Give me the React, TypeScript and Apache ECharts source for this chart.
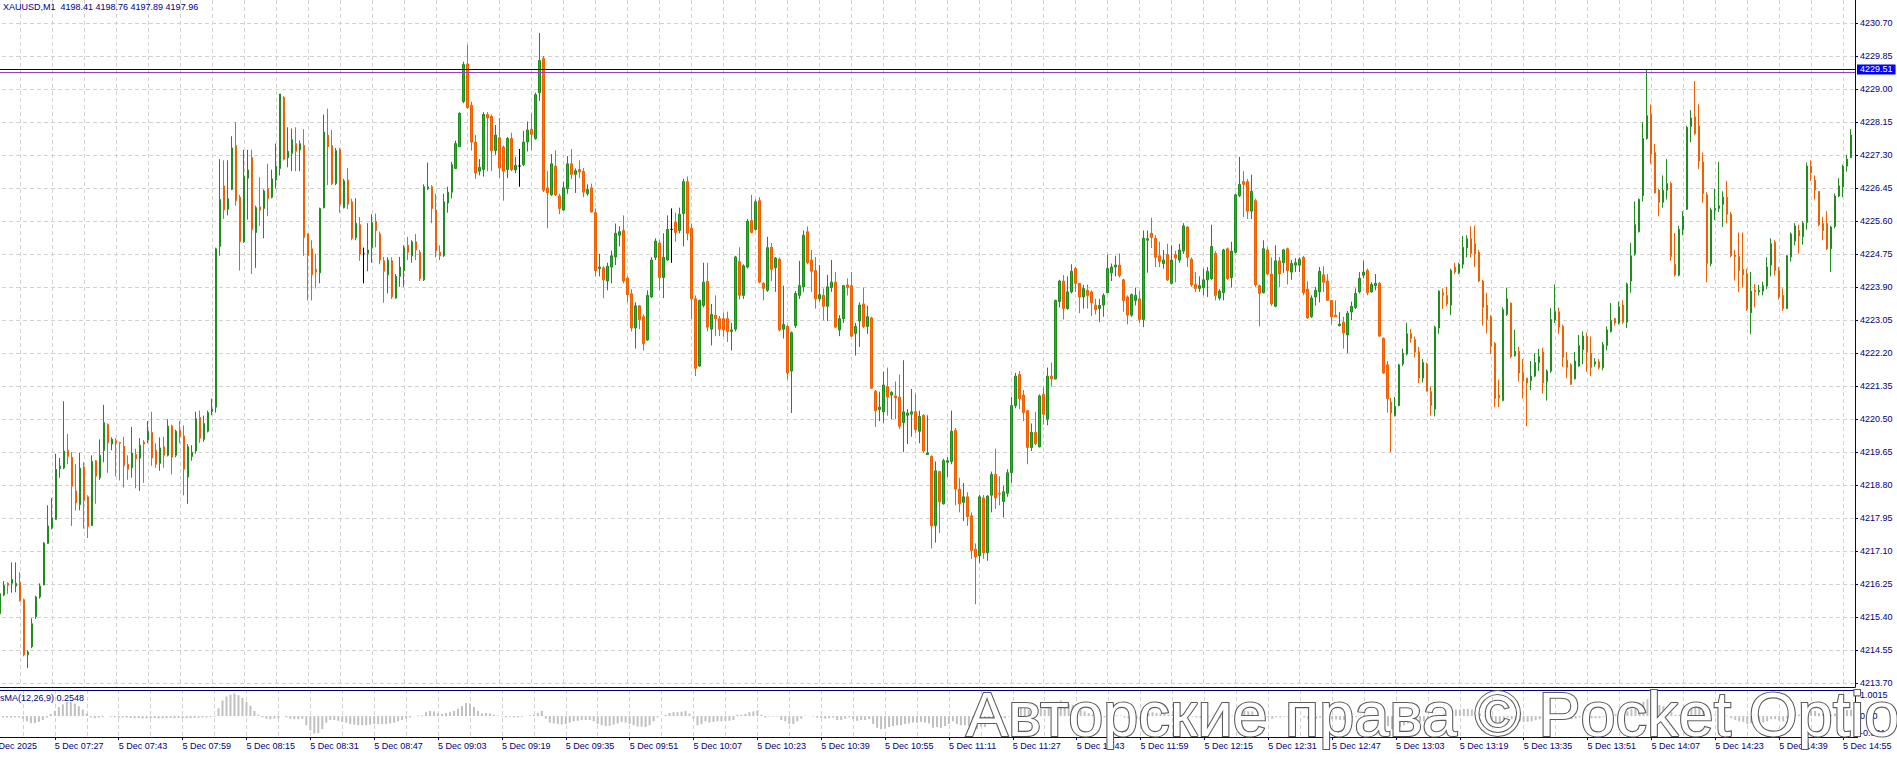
import React, { useEffect, useRef } from "react";
import * as echarts from "echarts";

const SYMBOL_TITLE = "XAUUSD,M1  4198.41 4198.76 4197.89 4197.96";
const INDICATOR_TITLE = "sMA(12,26,9) 0.2548";
const WATERMARK = "Авторские права © Pocket Option";

const FIRST_SLOT = "07:11"; // first time slot of the axis
const LEAD_EMPTY = 3; // empty slots before the first bar
const TRAIL_EMPTY = 1; // empty slot after the last bar

const PRICE_LINE = 4229.51;
const SECOND_LINE = 4229.45;

const PRICE_TICKS = [
  4213.7, 4214.55, 4215.4, 4216.25, 4217.1, 4217.95, 4218.8, 4219.65, 4220.5, 4221.35, 4222.2,
  4223.05, 4223.9, 4224.75, 4225.6, 4226.45, 4227.3, 4228.15, 4229.0, 4229.85, 4230.7,
];
const OSMA_TICKS = [-0.8016, 0, 1.0015];

const TIME_LABELS = [
  "5 Dec 2025", "5 Dec 07:27", "5 Dec 07:43", "5 Dec 07:59", "5 Dec 08:15", "5 Dec 08:31",
  "5 Dec 08:47", "5 Dec 09:03", "5 Dec 09:19", "5 Dec 09:35", "5 Dec 09:51", "5 Dec 10:07",
  "5 Dec 10:23", "5 Dec 10:39", "5 Dec 10:55", "5 Dec 11:11", "5 Dec 11:27", "5 Dec 11:43",
  "5 Dec 11:59", "5 Dec 12:15", "5 Dec 12:31", "5 Dec 12:47", "5 Dec 13:03", "5 Dec 13:19",
  "5 Dec 13:35", "5 Dec 13:51", "5 Dec 14:07", "5 Dec 14:23", "5 Dec 14:39", "5 Dec 14:55",
];

// [open, high, low, close] per minute, 07:14 .. 14:57
const BARS: number[][] = [
  [4215.49,4216.05,4215.45,4216.00],[4215.97,4216.33,4215.94,4216.22],[4216.27,4216.30,4216.00,4216.22],[4216.27,4216.81,4216.03,4216.37],
  [4216.20,4216.81,4216.04,4216.27],[4216.29,4216.56,4215.80,4215.82],[4215.85,4215.88,4214.39,4214.43],[4214.43,4214.55,4214.09,4214.50],
  [4214.64,4215.37,4214.60,4215.23],[4215.41,4215.95,4215.35,4215.92],[4215.92,4216.27,4215.88,4216.20],[4216.23,4217.33,4216.22,4217.31],
  [4217.30,4218.28,4217.29,4217.75],[4217.70,4218.47,4217.66,4217.96],[4217.92,4219.61,4217.91,4219.21],[4219.23,4219.50,4218.99,4219.29],
  [4219.24,4220.96,4219.21,4219.68],[4219.70,4220.12,4219.34,4219.54],[4219.52,4219.65,4217.75,4218.77],[4218.65,4219.34,4218.15,4218.34],
  [4218.30,4219.63,4218.15,4219.24],[4219.27,4219.39,4217.68,4218.41],[4218.50,4218.54,4217.44,4217.73],[4217.76,4219.57,4217.75,4219.41],
  [4219.43,4219.45,4218.32,4219.03],[4218.99,4219.98,4218.94,4219.57],[4219.70,4220.87,4219.39,4220.41],[4220.36,4220.39,4219.12,4219.89],
  [4219.86,4220.03,4219.70,4219.98],[4219.95,4220.01,4219.03,4219.89],[4219.90,4219.92,4218.92,4219.88],[4219.80,4220.05,4218.74,4219.30],
  [4219.34,4219.57,4218.94,4219.21],[4219.25,4220.30,4218.99,4219.63],[4219.59,4219.74,4218.72,4219.48],[4219.50,4220.01,4218.65,4219.83],
  [4219.91,4219.96,4218.86,4219.86],[4219.96,4220.45,4219.88,4220.19],[4220.16,4220.69,4219.30,4219.50],[4219.70,4219.88,4219.25,4219.34],
  [4219.36,4220.03,4219.17,4219.76],[4219.79,4220.05,4219.25,4219.57],[4219.57,4220.50,4219.54,4220.32],[4220.32,4220.36,4219.08,4219.52],
  [4219.57,4220.23,4219.52,4220.19],[4220.21,4220.45,4219.88,4220.05],[4220.07,4220.34,4218.54,4219.21],[4219.01,4219.86,4218.32,4219.79],
  [4219.54,4219.83,4219.43,4219.65],[4219.68,4220.69,4219.61,4220.51],[4220.54,4220.72,4219.89,4220.01],[4219.98,4220.59,4219.92,4220.39],
  [4220.19,4220.72,4220.16,4220.67],[4220.69,4221.03,4220.60,4220.76],[4220.81,4224.92,4220.67,4224.89],[4224.95,4227.20,4224.71,4226.16],
  [4226.51,4227.17,4225.66,4225.89],[4225.91,4227.17,4225.75,4226.18],[4226.42,4227.79,4226.40,4227.49],[4227.55,4228.15,4226.00,4226.13],
  [4226.22,4226.28,4224.33,4225.07],[4225.07,4227.44,4225.04,4226.75],[4226.71,4227.44,4225.64,4226.92],[4227.24,4227.44,4224.24,4225.38],
  [4225.31,4226.00,4224.40,4225.95],[4225.97,4226.73,4225.48,4225.89],[4225.93,4226.42,4225.16,4226.38],[4226.44,4227.08,4225.73,4226.18],
  [4226.22,4226.93,4226.19,4226.69],[4226.66,4227.60,4226.44,4227.02],[4226.96,4228.88,4226.78,4228.88],[4228.79,4228.82,4227.17,4227.20],
  [4227.24,4228.02,4226.99,4227.40],[4227.35,4227.99,4226.89,4227.70],[4227.60,4228.02,4226.89,4227.40],[4227.44,4227.68,4226.89,4227.60],
  [4227.55,4227.97,4224.71,4225.18],[4225.27,4225.29,4223.56,4224.71],[4224.89,4225.11,4223.56,4224.22],[4224.36,4224.76,4223.87,4224.29],
  [4224.27,4225.95,4224.00,4225.93],[4225.95,4228.35,4225.93,4227.90],[4227.82,4228.50,4226.53,4227.52],[4227.55,4227.95,4226.53,4226.57],
  [4226.57,4227.49,4226.53,4227.42],[4227.44,4227.49,4225.82,4226.04],[4225.95,4226.69,4225.93,4226.64],[4226.66,4226.97,4225.91,4226.04],
  [4226.10,4226.18,4225.11,4225.16],[4225.18,4226.19,4225.11,4225.55],[4225.51,4225.71,4224.58,4224.76],[4224.76,4224.92,4224.00,4224.76],
  [4224.77,4225.55,4224.31,4224.86],[4224.92,4225.78,4224.53,4225.57],[4225.60,4225.80,4224.93,4225.36],[4225.27,4225.33,4224.49,4224.60],
  [4224.58,4224.68,4223.50,4224.31],[4224.22,4224.67,4223.74,4224.60],[4224.58,4224.67,4223.60,4223.65],[4223.62,4224.24,4223.60,4224.18],
  [4224.18,4224.68,4223.91,4224.42],[4224.33,4224.98,4223.91,4224.92],[4224.98,4225.20,4224.60,4224.80],[4224.71,4225.11,4224.53,4225.07],
  [4225.07,4225.27,4224.60,4224.86],[4224.80,4224.86,4224.06,4224.12],[4224.09,4226.55,4224.06,4226.49],[4226.44,4227.11,4226.40,4226.49],
  [4226.49,4226.53,4225.55,4225.93],[4225.89,4226.31,4224.67,4224.83],[4224.80,4224.98,4224.60,4224.71],[4224.71,4226.31,4224.68,4226.10],
  [4226.07,4226.49,4225.82,4226.35],[4226.35,4227.13,4226.19,4227.06],[4226.96,4227.68,4226.96,4227.60],[4227.52,4228.41,4227.51,4228.38],
  [4228.68,4229.71,4228.64,4229.64],[4229.65,4230.15,4228.50,4228.53],[4228.59,4228.68,4227.42,4227.64],[4227.64,4227.82,4226.69,4226.84],
  [4226.89,4227.20,4226.78,4226.99],[4226.93,4228.41,4226.75,4228.35],[4228.35,4228.41,4226.89,4228.26],[4228.30,4228.35,4226.89,4227.42],
  [4227.42,4228.08,4227.31,4227.82],[4227.75,4228.26,4226.71,4226.97],[4227.51,4227.55,4226.13,4226.89],[4226.93,4227.77,4226.71,4227.73],
  [4227.73,4227.88,4226.89,4226.93],[4226.92,4227.26,4226.84,4227.04],[4227.02,4227.46,4226.49,4227.02],[4227.06,4227.93,4227.02,4227.64],
  [4227.64,4228.17,4227.40,4227.95],[4227.97,4228.38,4227.43,4227.84],[4227.73,4228.91,4227.70,4228.86],[4228.91,4230.45,4228.70,4229.74],
  [4229.79,4229.86,4226.35,4226.40],[4226.46,4226.89,4225.42,4226.33],[4226.28,4227.33,4226.25,4227.08],[4227.02,4227.43,4226.25,4226.28],
  [4226.25,4226.31,4225.78,4225.93],[4225.89,4226.62,4225.87,4226.46],[4226.44,4227.28,4226.31,4227.08],[4227.08,4227.46,4226.69,4226.81],
  [4226.81,4226.96,4226.33,4226.90],[4226.93,4227.17,4226.71,4226.87],[4226.88,4226.97,4226.22,4226.35],[4226.31,4226.55,4226.26,4226.42],
  [4226.46,4226.57,4225.82,4225.84],[4225.82,4225.93,4224.18,4224.33],[4224.38,4224.76,4224.18,4224.42],[4224.40,4224.44,4223.62,4224.09],
  [4224.06,4224.53,4223.82,4224.44],[4224.42,4224.84,4224.00,4224.71],[4224.68,4225.54,4224.47,4225.29],[4225.24,4225.47,4224.95,4225.33],
  [4225.36,4225.75,4224.00,4224.06],[4224.13,4224.18,4223.51,4223.71],[4223.73,4223.85,4222.76,4222.85],[4222.85,4223.51,4222.32,4223.42],
  [4223.42,4223.44,4222.82,4223.07],[4223.14,4223.20,4222.27,4222.45],[4222.54,4223.82,4222.52,4223.69],[4223.65,4224.67,4223.62,4224.60],
  [4224.67,4225.16,4224.60,4225.09],[4225.04,4225.11,4223.82,4224.15],[4224.15,4225.29,4223.62,4224.67],[4224.60,4225.75,4224.58,4225.39],
  [4225.39,4225.93,4224.53,4225.39],[4225.57,4225.82,4225.07,4225.31],[4225.36,4225.95,4225.29,4225.78],[4225.80,4226.69,4224.95,4226.62],
  [4226.62,4226.75,4225.11,4225.29],[4225.42,4225.54,4223.07,4223.60],[4223.60,4223.69,4221.61,4221.81],[4221.87,4223.58,4221.85,4223.56],
  [4223.43,4224.53,4223.38,4224.03],[4224.05,4224.53,4222.76,4222.87],[4222.82,4223.47,4222.40,4223.20],[4223.18,4223.69,4222.64,4223.09],
  [4223.09,4223.16,4222.64,4222.82],[4223.09,4223.25,4222.63,4222.80],[4223.09,4223.27,4222.49,4222.76],[4222.76,4222.98,4222.27,4222.80],
  [4222.82,4224.71,4222.76,4224.68],[4224.56,4224.93,4223.58,4223.69],[4223.69,4224.49,4223.60,4224.45],[4224.42,4225.66,4224.38,4225.60],
  [4225.62,4226.28,4225.29,4225.31],[4225.39,4226.16,4225.36,4226.10],[4226.13,4226.22,4224.00,4224.03],[4224.00,4224.03,4223.56,4223.87],
  [4223.82,4225.20,4223.78,4224.92],[4224.93,4225.04,4224.06,4224.36],[4224.40,4224.68,4223.78,4224.65],[4224.62,4224.67,4222.76,4222.80],
  [4222.82,4223.94,4222.58,4222.94],[4222.89,4222.94,4221.52,4221.69],[4221.74,4222.76,4220.66,4222.73],[4222.91,4223.80,4222.85,4223.74],
  [4223.69,4224.58,4223.60,4223.94],[4223.91,4225.36,4223.78,4225.24],[4225.33,4225.47,4224.49,4224.53],[4224.60,4224.86,4223.78,4224.31],
  [4224.33,4224.68,4223.35,4223.60],[4223.60,4224.47,4223.53,4223.71],[4223.69,4223.87,4223.05,4223.41],[4223.41,4224.22,4223.03,4223.91],
  [4223.89,4224.60,4223.78,4224.03],[4224.03,4224.29,4222.85,4222.87],[4222.80,4223.18,4222.64,4223.09],[4223.09,4223.96,4222.98,4223.94],
  [4223.96,4224.13,4223.69,4223.89],[4223.94,4224.29,4222.62,4222.64],[4222.71,4222.98,4222.14,4222.89],[4223.03,4223.51,4222.36,4223.44],
  [4223.47,4223.89,4222.85,4222.89],[4222.89,4223.42,4222.70,4223.14],[4223.11,4223.14,4221.28,4221.30],[4221.22,4221.25,4220.30,4220.72],
  [4220.75,4221.21,4220.45,4220.81],[4220.69,4221.72,4220.41,4221.38],[4221.34,4221.83,4220.59,4221.07],[4221.12,4221.22,4220.50,4221.19],
  [4221.10,4221.47,4220.50,4221.05],[4221.07,4221.65,4220.25,4220.32],[4220.41,4222.02,4219.65,4220.69],[4220.60,4220.76,4219.86,4220.66],
  [4220.63,4221.28,4220.05,4220.69],[4220.69,4221.16,4220.14,4220.23],[4220.19,4220.72,4219.88,4220.57],[4220.60,4220.63,4219.63,4219.68],
  [4219.59,4220.60,4219.59,4219.63],[4219.54,4219.57,4217.17,4217.75],[4217.76,4219.41,4217.32,4219.17],[4219.15,4219.17,4217.57,4218.37],
  [4218.32,4219.48,4218.30,4219.43],[4219.39,4219.52,4219.01,4219.43],[4219.41,4220.72,4219.34,4220.19],[4220.21,4220.27,4218.28,4218.70],
  [4218.70,4218.99,4218.10,4218.32],[4218.36,4218.86,4217.88,4218.50],[4218.50,4218.62,4217.75,4217.99],[4218.01,4218.10,4216.90,4217.12],
  [4217.15,4217.30,4215.73,4216.95],[4216.98,4218.55,4216.80,4218.50],[4218.47,4218.55,4216.90,4217.06],[4217.06,4218.54,4216.85,4218.52],
  [4218.54,4219.15,4218.10,4219.08],[4219.08,4219.74,4218.19,4218.47],[4218.59,4219.03,4218.28,4218.57],[4218.38,4218.79,4217.97,4218.63],
  [4218.59,4219.21,4218.50,4219.12],[4219.12,4221.07,4218.86,4220.85],[4220.85,4221.69,4220.78,4221.61],[4221.65,4221.74,4220.76,4221.03],
  [4221.12,4221.25,4220.45,4220.67],[4220.72,4220.72,4219.34,4219.77],[4219.77,4220.39,4219.68,4220.16],[4220.16,4220.69,4219.83,4219.87],
  [4219.79,4221.14,4219.77,4221.10],[4221.14,4221.34,4220.36,4220.63],[4220.50,4221.83,4220.34,4221.61],[4221.61,4221.96,4221.34,4221.54],
  [4221.54,4223.58,4221.52,4223.56],[4223.53,4224.09,4223.38,4224.06],[4224.06,4224.21,4223.07,4223.35],[4223.35,4224.18,4223.32,4223.78],
  [4223.78,4224.49,4223.74,4224.31],[4224.38,4224.42,4223.78,4224.00],[4224.00,4224.00,4223.23,4223.65],[4223.65,4223.96,4223.35,4223.87],
  [4223.82,4223.97,4223.35,4223.69],[4223.78,4223.82,4223.16,4223.50],[4223.44,4223.60,4223.20,4223.32],[4223.35,4223.60,4223.00,4223.43],
  [4223.44,4223.74,4223.14,4223.69],[4223.76,4224.74,4223.74,4224.38],[4224.27,4224.51,4224.06,4224.42],[4224.42,4224.71,4224.18,4224.47],
  [4224.47,4224.77,4224.15,4224.20],[4224.09,4224.12,4223.27,4223.56],[4223.65,4223.69,4222.94,4223.18],[4223.18,4223.74,4223.14,4223.71],
  [4223.56,4223.89,4223.43,4223.69],[4223.60,4223.80,4222.98,4223.07],[4223.07,4225.36,4222.87,4225.16],[4225.11,4225.36,4224.27,4225.15],
  [4225.29,4225.69,4224.91,4225.18],[4225.16,4225.24,4224.42,4224.67],[4224.71,4225.07,4224.42,4224.56],[4224.51,4224.86,4224.38,4224.60],
  [4224.74,4225.02,4224.06,4224.09],[4224.00,4224.98,4223.97,4224.60],[4224.74,4224.84,4224.03,4224.65],[4224.60,4225.02,4224.53,4224.86],
  [4224.83,4225.55,4224.76,4225.48],[4225.45,4225.48,4224.42,4224.67],[4224.62,4224.67,4223.91,4223.96],[4223.97,4224.29,4223.78,4223.87],
  [4223.87,4224.18,4223.78,4223.94],[4223.89,4224.38,4223.69,4224.09],[4224.09,4224.42,4223.65,4224.31],[4224.12,4225.51,4224.09,4224.95],
  [4224.77,4224.83,4223.56,4223.69],[4223.62,4223.85,4223.56,4223.80],[4223.76,4224.89,4223.56,4224.86],[4224.89,4224.92,4224.09,4224.12],
  [4224.15,4225.07,4223.89,4224.83],[4224.80,4226.31,4224.77,4226.28],[4226.26,4227.26,4226.22,4226.55],[4226.62,4226.89,4225.71,4226.55],
  [4226.62,4226.69,4225.66,4225.86],[4225.86,4226.80,4225.66,4226.37],[4226.13,4226.18,4223.91,4223.96],[4223.94,4223.97,4222.89,4223.74],
  [4223.76,4225.11,4223.74,4224.89],[4224.86,4224.93,4224.22,4224.24],[4224.24,4224.67,4223.42,4223.47],[4223.41,4224.98,4223.38,4224.58],
  [4224.58,4224.68,4223.91,4224.24],[4224.53,4224.89,4224.27,4224.86],[4224.89,4224.92,4223.97,4224.33],[4224.29,4224.60,4224.09,4224.51],
  [4224.47,4224.65,4224.29,4224.53],[4224.47,4224.67,4224.29,4224.62],[4224.67,4224.71,4223.69,4223.76],[4223.85,4224.05,4223.09,4223.11],
  [4223.14,4223.69,4223.11,4223.62],[4223.65,4223.91,4223.43,4223.82],[4223.78,4224.42,4223.51,4224.31],[4224.22,4224.44,4223.78,4224.03],
  [4224.06,4224.24,4223.56,4223.56],[4223.56,4223.56,4222.94,4223.14],[4223.18,4223.56,4223.14,4223.14],[4222.91,4223.26,4222.89,4222.95],
  [4223.00,4223.14,4222.32,4222.72],[4222.67,4223.29,4222.20,4223.23],[4223.26,4223.53,4223.05,4223.41],[4223.38,4223.87,4223.34,4223.74],
  [4223.78,4224.29,4223.74,4224.13],[4224.21,4224.58,4224.13,4224.29],[4224.33,4224.38,4223.69,4223.76],[4223.78,4224.03,4223.76,4223.97],
  [4223.94,4224.24,4223.82,4224.00],[4224.00,4224.03,4222.63,4222.64],[4222.58,4222.61,4221.67,4221.69],[4221.90,4222.00,4220.67,4221.03],
  [4220.94,4221.05,4219.65,4220.66],[4220.60,4221.07,4220.57,4220.83],[4220.85,4221.93,4220.83,4221.90],[4221.92,4222.32,4221.87,4222.20],
  [4222.18,4222.98,4222.14,4222.70],[4222.70,4222.82,4222.47,4222.58],[4222.55,4222.63,4222.09,4222.23],[4222.23,4222.36,4221.43,4221.56],
  [4221.56,4222.05,4221.45,4221.96],[4221.92,4221.96,4221.21,4221.22],[4221.21,4221.34,4220.59,4220.85],[4220.76,4222.91,4220.57,4222.87],
  [4222.85,4223.82,4222.70,4223.80],[4223.76,4223.87,4223.34,4223.69],[4223.69,4223.91,4223.41,4223.47],[4223.44,4224.38,4223.18,4224.33],
  [4224.42,4224.53,4224.24,4224.29],[4224.27,4224.53,4224.24,4224.49],[4224.49,4225.22,4224.38,4224.93],[4224.91,4225.24,4224.67,4225.15],
  [4225.15,4225.47,4224.67,4224.77],[4225.02,4225.48,4224.42,4224.76],[4224.80,4224.86,4224.03,4224.06],[4224.06,4224.09,4222.91,4223.38],
  [4223.44,4223.76,4222.71,4223.07],[4223.14,4223.18,4222.18,4222.38],[4222.45,4222.49,4220.81,4221.03],[4221.12,4221.52,4220.81,4221.05],
  [4220.98,4223.38,4220.96,4223.32],[4223.20,4223.89,4223.16,4223.60],[4223.49,4223.51,4222.07,4222.11],[4222.14,4222.80,4222.11,4222.25],
  [4222.25,4222.36,4221.47,4221.69],[4221.69,4222.05,4221.03,4221.49],[4221.56,4221.56,4220.32,4221.43],[4221.49,4222.00,4221.25,4221.61],
  [4221.61,4222.20,4221.58,4221.96],[4221.96,4222.31,4221.74,4222.11],[4222.23,4222.34,4221.16,4221.43],[4221.47,4221.78,4220.98,4221.74],
  [4221.74,4223.36,4221.69,4223.07],[4223.05,4223.97,4222.98,4223.27],[4223.27,4223.38,4222.70,4222.87],[4222.89,4222.94,4221.85,4222.09],
  [4222.02,4222.23,4221.56,4221.83],[4221.90,4221.94,4221.38,4221.40],[4221.54,4222.23,4221.52,4222.00],[4221.87,4222.67,4221.85,4222.40],
  [4222.29,4222.76,4221.92,4222.64],[4222.64,4222.73,4221.72,4222.23],[4222.20,4222.63,4221.61,4221.83],[4221.92,4222.07,4221.85,4221.98],
  [4221.98,4222.05,4221.78,4221.83],[4221.83,4222.49,4221.76,4222.42],[4222.40,4222.89,4222.27,4222.80],[4222.76,4223.49,4222.73,4223.05],
  [4223.09,4223.11,4222.91,4222.98],[4222.98,4223.53,4222.94,4223.40],[4223.44,4223.56,4222.96,4223.00],[4223.00,4224.02,4222.85,4223.98],
  [4224.06,4225.04,4223.76,4224.71],[4224.76,4226.11,4224.71,4225.51],[4225.33,4226.19,4225.31,4226.16],[4226.26,4228.15,4226.11,4227.73],
  [4227.73,4229.51,4227.70,4228.32],[4228.35,4228.61,4227.08,4227.33],[4227.37,4227.59,4226.31,4226.33],[4226.40,4226.44,4225.73,4226.09],
  [4226.09,4226.78,4225.95,4226.40],[4226.40,4227.20,4226.16,4226.57],[4226.57,4226.62,4224.58,4224.69],[4224.49,4225.30,4224.18,4224.22],
  [4224.21,4225.48,4224.18,4225.39],[4225.38,4225.86,4225.24,4225.73],[4225.91,4228.06,4225.89,4228.02],[4228.04,4228.46,4227.64,4228.26],
  [4228.29,4229.21,4227.82,4227.86],[4228.06,4228.61,4226.95,4227.15],[4227.13,4227.37,4226.07,4226.31],[4226.28,4226.35,4224.03,4224.51],
  [4224.51,4225.95,4224.44,4225.89],[4225.89,4226.44,4225.63,4225.93],[4225.93,4227.13,4225.84,4226.00],[4226.04,4226.37,4225.45,4226.22],
  [4226.22,4226.64,4225.55,4225.78],[4225.78,4225.84,4224.67,4224.71],[4224.73,4224.86,4224.07,4224.69],[4224.69,4225.31,4223.78,4224.33],
  [4224.36,4225.31,4223.89,4224.22],[4224.24,4224.38,4223.29,4223.35],[4223.24,4224.29,4222.69,4223.80],[4223.82,4223.98,4223.38,4223.78],
  [4223.78,4223.96,4223.69,4223.82],[4223.80,4224.04,4223.69,4223.94],[4223.93,4224.67,4223.85,4224.42],[4224.47,4225.16,4224.18,4225.02],
  [4225.06,4225.11,4224.20,4224.33],[4224.33,4224.42,4223.58,4223.65],[4223.69,4223.87,4223.29,4223.35],[4223.35,4224.73,4223.34,4224.71],
  [4224.68,4225.31,4224.56,4225.27],[4225.09,4225.55,4224.98,4225.48],[4225.36,4225.51,4224.76,4225.22],[4225.20,4225.60,4225.00,4225.55],
  [4225.57,4227.11,4225.38,4227.02],[4227.02,4227.17,4226.64,4226.84],[4226.66,4226.78,4226.16,4226.40],[4226.37,4226.37,4225.47,4225.51],
  [4225.54,4225.71,4225.11,4225.36],[4225.54,4225.86,4224.86,4224.89],[4224.89,4225.48,4224.29,4225.45],[4225.47,4226.31,4225.42,4226.25],
  [4226.25,4226.71,4226.22,4226.51],[4226.48,4227.06,4226.22,4227.02],[4227.02,4227.31,4226.88,4227.20],[4227.24,4227.97,4227.24,4227.82],
];

// OsMA(12,26,9) histogram, one value per bar
const OSMA: number[] = [
  -0.05,-0.06,-0.06,-0.05,-0.05,-0.1,-0.2,-0.27,-0.27,-0.22,-0.15,-0.06,
  0.08,0.2,0.35,0.45,0.55,0.55,0.48,0.38,0.25,0.1,
  -0.05,-0.08,-0.06,-0.04,0,-0.03,-0.05,-0.06,-0.05,
  -0.06,-0.07,-0.08,-0.08,-0.09,-0.09,-0.08,-0.08,-0.09,-0.09,-0.08,-0.07,-0.08,-0.07,-0.07,-0.08,-0.08,-0.07,-0.06,-0.05,-0.05,-0.04,-0.03,
  0.3,0.6,0.75,0.82,0.87,0.8,0.7,0.55,0.4,
  0.2,0.05,-0.05,-0.1,-0.12,-0.1,-0.08,0,-0.05,-0.1,-0.12,-0.12,-0.1,
  -0.35,-0.55,-0.67,-0.65,-0.5,-0.25,-0.15,
  -0.15,-0.18,-0.22,-0.25,-0.3,-0.33,-0.35,-0.35,-0.35,-0.33,-0.3,-0.3,-0.3,-0.3,-0.28,-0.25,-0.2,-0.15,
  -0.1,-0.05,0,0.02,0.03,0.15,0.2,
  0.18,0.12,0.08,0.12,0.15,0.2,0.28,0.38,0.5,0.48,0.35,0.2,
  0.1,0.12,0.1,0.05,0.02,-0.02,-0.05,-0.03,-0.05,-0.05,-0.03,0,0.03,0.05,0.12,0.2,
  -0.1,-0.25,-0.28,-0.3,-0.32,-0.3,-0.25,-0.2,-0.18,-0.15,-0.15,-0.15,-0.2,-0.3,-0.35,-0.38,-0.37,-0.33,-0.28,-0.22,-0.25,-0.3,-0.35,-0.4,-0.4,
  -0.42,-0.35,-0.2,-0.05,0,0.05,0.12,0.15,0.15,0.17,0.2,0.1,-0.1,-0.35,-0.3,
  -0.2,-0.25,-0.22,-0.2,-0.2,-0.18,-0.18,-0.15,0.05,0.05,0.08,0.15,0.18,0.22,0.05,-0.05,-0.02,-0.02,-0.02,-0.15,-0.2,-0.3,-0.3,-0.2,-0.1,
  0.02,0,-0.02,-0.06,-0.08,-0.1,-0.08,-0.06,-0.15,-0.15,-0.1,-0.05,-0.12,-0.18,-0.15,-0.15,-0.12,-0.3,-0.45,-0.5,-0.48,-0.42,-0.38,-0.35,-0.35,-0.3,-0.28,-0.25,-0.25,-0.22,-0.25,-0.28,
  -0.45,-0.42,-0.45,-0.38,-0.3,-0.2,-0.3,-0.35,-0.35,-0.38,-0.45,-0.5,-0.4,-0.42,-0.3,-0.2,-0.18,-0.12,-0.08,-0.02,
  0.2,0.35,0.38,0.35,0.25,0.22,0.2,0.28,0.25,0.3,0.28,0.55,0.6,0.5,0.45,0.42,0.35,0.25,
  0.18,0.12,0.06,0,-0.04,-0.05,0,0.02,0.03,0.02,-0.05,-0.1,-0.1,-0.1,-0.14,
  0.05,0.12,0.15,0.12,0.1,0.08,0.05,0.05,0.05,0.06,0.1,0.05,-0.02,-0.05,-0.06,-0.05,-0.04,0.02,-0.05,-0.08,0,-0.02,0.02,0.15,0.22,0.22,0.18,0.18,
  0,-0.1,-0.05,-0.05,-0.1,-0.05,-0.05,-0.02,-0.03,-0.02,-0.01,0,-0.05,-0.12,-0.12,-0.1,-0.06,-0.05,-0.08,-0.12,-0.13,-0.15,-0.15,-0.1,-0.06,-0.03,0.02,0.03,0,0,0,
  -0.12,-0.25,-0.38,-0.5,-0.5,-0.42,-0.35,-0.28,-0.22,-0.2,-0.22,-0.2,-0.22,-0.25,-0.1,0.05,
  0.1,0.12,0.2,0.25,0.25,0.28,0.28,0.25,0.2,0.1,0.02,-0.05,
  -0.12,-0.25,-0.3,-0.15,-0.05,-0.12,-0.15,-0.2,-0.22,-0.22,-0.2,-0.16,-0.12,-0.15,-0.12,0,0.05,0.03,-0.05,-0.1,-0.12,-0.1,-0.05,-0.02,-0.04,-0.08,-0.08,-0.08,
  -0.03,0.02,0.06,0.07,0.1,0.1,0.18,0.27,0.35,0.42,0.55,0.65,0.6,0.5,0.42,0.38,0.35,0.15,0.05,0.05,0.06,
  0.3,0.42,0.42,0.35,0.2,0,0.02,0.03,0.04,0.05,0.02,-0.08,-0.15,-0.2,-0.22,-0.3,-0.28,-0.28,-0.26,-0.25,-0.2,-0.12,-0.12,-0.16,-0.2,
  -0.08,0,0.05,0.06,0.08,0.2,0.22,0.2,0.12,0.08,0.03,0.05,0.1,0.15,0.2,0.23,0.25,
];

const NAVY = "#000080";
const GRID_C = "#d2d2d2";
const FONT = "'Liberation Sans', Arial, sans-serif";
const SHIFT = 12; // the picture is cropped 12px into the chart's left edge

function buildSlots(): string[] {
  const [h0, m0] = FIRST_SLOT.split(":").map(Number);
  const total = LEAD_EMPTY + BARS.length + TRAIL_EMPTY;
  const out: string[] = [];
  for (let i = 0; i < total; i++) {
    const t = h0 * 60 + m0 + i;
    out.push(String(Math.floor(t / 60)).padStart(2, "0") + ":" + String(t % 60).padStart(2, "0"));
  }
  return out;
}

function buildOption() {
  const slots = buildSlots();
  const candleData = BARS.map((b, i) => [i + LEAD_EMPTY, b[0], b[3], b[2], b[1]]);
  const osmaData = OSMA.map((v, i) => [i + LEAD_EMPTY, v]);
  const gridLine = { color: GRID_C, width: 1, type: [4, 3] as any };
  const axisText = { color: NAVY, fontSize: 9, fontFamily: FONT };

  return {
    animation: false,
    backgroundColor: "#ffffff",
    grid: [
      { left: 0, right: 42, top: 0, height: 687 },
      { left: 0, right: 42, top: 690, height: 47 },
    ],
    xAxis: [
      {
        type: "category", gridIndex: 0, data: slots, boundaryGap: false,
        axisLine: { show: true, onZero: false, lineStyle: { color: NAVY, width: 1 } },
        axisTick: { show: false }, axisLabel: { show: false },
        splitLine: { show: true, interval: (i: number) => i % 8 === 0, lineStyle: gridLine },
      },
      {
        type: "category", gridIndex: 1, data: slots, boundaryGap: false,
        axisLine: { show: true, onZero: false, lineStyle: { color: NAVY, width: 1 } },
        axisTick: { show: true, interval: (i: number) => i % 16 === 0, length: 3, lineStyle: { color: NAVY } },
        axisLabel: {
          show: true, interval: (i: number) => i % 16 === 0, align: "left", margin: 4, ...axisText,
          formatter: (_v: string, i: number) => TIME_LABELS[i / 16] ?? "",
        },
        splitLine: { show: true, interval: (i: number) => i % 8 === 0, lineStyle: gridLine },
      },
      {
        type: "category", gridIndex: 1, position: "top", data: slots, boundaryGap: false,
        axisLine: { show: true, onZero: false, lineStyle: { color: NAVY, width: 1 } },
        axisTick: { show: false }, axisLabel: { show: false }, splitLine: { show: false },
      },
    ],
    yAxis: [
      {
        type: "value", gridIndex: 0, position: "right", min: 4213.6, max: 4231.3, scale: true,
        axisLine: { show: true, lineStyle: { color: NAVY, width: 1 } },
        axisTick: { show: true, length: 3, customValues: PRICE_TICKS, lineStyle: { color: NAVY } },
        axisLabel: { show: true, customValues: PRICE_TICKS, margin: 5, ...axisText, formatter: (v: number) => v.toFixed(2) },
        splitLine: { show: true, lineStyle: gridLine },
      },
      {
        type: "value", gridIndex: 1, position: "right", min: -0.8016, max: 1.0015,
        axisLine: { show: true, lineStyle: { color: NAVY, width: 1 } },
        axisTick: { show: true, length: 3, customValues: OSMA_TICKS, lineStyle: { color: NAVY } },
        axisLabel: {
          show: true, customValues: OSMA_TICKS, margin: 5, ...axisText,
          verticalAlignMinLabel: "bottom", verticalAlignMaxLabel: "top",
          formatter: (v: number) => (v === 0 ? "0.00" : String(v)),
        },
        splitLine: { show: false },
      },
    ],
    series: [
      {
        type: "candlestick", xAxisIndex: 0, yAxisIndex: 0, data: candleData,
        encode: { x: 0, y: [1, 2, 3, 4] }, barWidth: 2,
        itemStyle: {
          color: "#34a834", color0: "#ff6c0c", borderColor: "#1f8c1f", borderColor0: "#f06000",
          borderColorDoji: "#000000", borderWidth: 1,
        },
        markLine: {
          silent: true, symbol: "none", animation: false,
          data: [
            {
              yAxis: PRICE_LINE, lineStyle: { color: NAVY, width: 1, type: "solid" },
              label: {
                show: true, position: "end", distance: 2, formatter: () => PRICE_LINE.toFixed(2),
                backgroundColor: "#0000ff", color: "#ffffff", padding: [1, 3, 0, 3], fontSize: 9, fontFamily: FONT,
              },
            },
            { yAxis: SECOND_LINE, lineStyle: { color: "#9440c4", width: 1, type: "solid" }, label: { show: false } },
          ],
        },
      },
      {
        type: "bar", xAxisIndex: 1, yAxisIndex: 1, data: osmaData, barWidth: 2,
        itemStyle: { color: "#c0c0c0" },
      },
    ],
    graphic: [
      { type: "text", x: SHIFT + 3, y: 7, z: 50, style: { text: SYMBOL_TITLE, fill: NAVY, fontSize: 9, fontFamily: FONT, verticalAlign: "middle" } },
      { type: "text", x: SHIFT, y: 698, z: 50, style: { text: INDICATOR_TITLE, fill: NAVY, fontSize: 9, fontFamily: FONT, verticalAlign: "middle" } },
      {
        type: "text", x: SHIFT + 966, y: 714, z: 100,
        style: {
          text: WATERMARK, fontSize: 63, fontFamily: FONT, fill: "#ffffff", stroke: "#5c5c5c", lineWidth: 2.2,
          verticalAlign: "middle", shadowBlur: 3, shadowColor: "rgba(0,0,0,0.5)",
        },
      },
    ],
  };
}

export default function App() {
  const ref = useRef<HTMLDivElement>(null);
  useEffect(() => {
    if (!ref.current) return;
    const chart = echarts.init(ref.current, null, { renderer: "svg" });
    chart.setOption(buildOption() as any);
    return () => chart.dispose();
  }, []);
  return (
    <div
      ref={ref}
      style={{ position: "fixed", left: -SHIFT, top: 0, width: 1897 + SHIFT, height: 757, background: "#ffffff" }}
    />
  );
}
